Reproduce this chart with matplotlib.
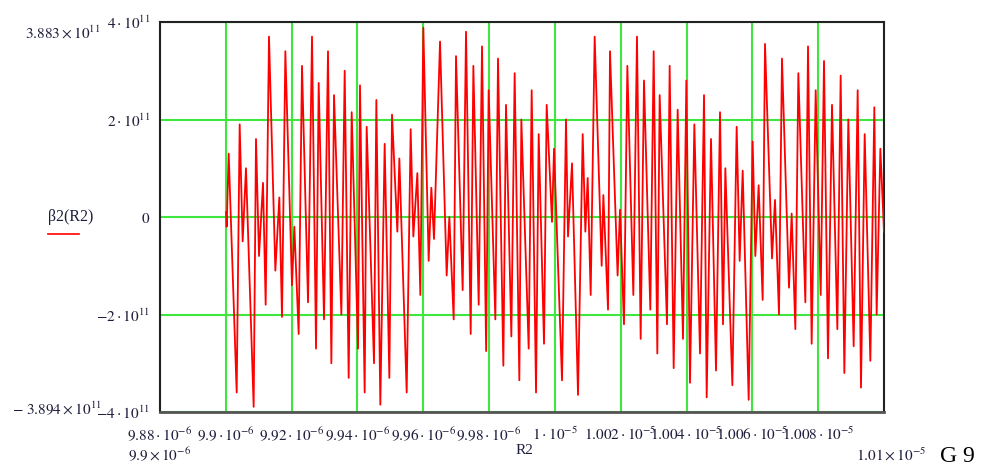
import matplotlib
matplotlib.use("Agg")
import matplotlib.pyplot as plt
from matplotlib.ticker import FixedLocator, FixedFormatter
from matplotlib.lines import Line2D
import numpy as np

plt.rcParams["font.family"] = ["Liberation Serif", "DejaVu Serif"]
plt.rcParams["mathtext.fontset"] = "stix"

# R2 sample positions (nanometres) and beta2(R2) values (units of 1e11)
r2_nm = [
    9900.06, 9900.26, 9900.87, 9903.30, 9904.21, 9905.12, 9906.13, 9908.46, 9909.17, 9910.08,
    9911.30, 9912.11, 9913.12, 9915.05, 9916.26, 9917.07, 9918.09, 9920.11, 9920.82, 9922.14,
    9923.15, 9924.98, 9926.19, 9927.41, 9928.22, 9929.84, 9931.05, 9932.07, 9932.88, 9935.11,
    9936.12, 9937.33, 9938.25,
    9940.17, 9940.77, 9942.19, 9942.80, 9945.03, 9945.74, 9946.95, 9948.27, 9949.69, 9950.50,
    9952.12, 9952.73, 9954.96, 9956.17, 9956.98, 9958.20, 9959.11, 9960.02, 9961.64, 9962.45,
    9963.26, 9965.09, 9967.11, 9967.92, 9969.24, 9969.95, 9971.97, 9972.99, 9974.41, 9975.22,
    9976.84, 9977.85, 9979.10,
    9979.87, 9981.90, 9982.71, 9984.33, 9985.14, 9986.76, 9987.77, 9989.19, 9989.80, 9992.03,
    9992.94, 9994.26, 9995.07, 9996.69, 9997.50, 9999.12, 9999.73, 10002.16, 10003.37, 10003.98,
    10005.20, 10007.02, 10008.44, 10009.25, 10009.96, 10010.87, 10012.08, 10014.21, 10014.72, 10016.14,
    10016.74, 10019.05,
    10019.78, 10020.99, 10022.01, 10023.83, 10024.94, 10026.06, 10027.07, 10028.99, 10030.01, 10031.12,
    10031.83, 10034.06, 10034.87, 10036.09, 10037.30, 10038.92, 10039.94, 10041.05, 10042.37, 10044.09,
    10045.31, 10046.12, 10047.43, 10048.95, 10050.17, 10051.08, 10051.79, 10053.92, 10055.23, 10056.14,
    10057.06, 10058.88,
    10060.09, 10060.90, 10061.91, 10063.13, 10063.84, 10065.97, 10066.88, 10068.09, 10069.00, 10071.13,
    10071.94, 10073.06, 10073.97, 10076.10, 10076.91, 10078.02, 10079.24, 10080.76, 10081.77, 10082.98,
    10084.20, 10085.82, 10086.83, 10087.95, 10089.16, 10090.78, 10092.00, 10093.01, 10094.13, 10095.85,
    10097.06, 10097.77, 10098.89, 10100.00,
]

beta2_e11 = [
    0.1, -0.2, 1.3, -3.6, 1.9, -0.5, 1.0, -3.894, 1.6, -0.8,
    0.7, -1.8, 3.7, -1.1, 0.4, -2.05, 3.4, -1.4, -0.2, -2.4,
    3.1, -1.75, 3.7, -2.7, 2.75, -2.1, 3.4, -3.0, 2.5, -2.0,
    3.0, -3.3, 2.15,
    -2.7, 2.7, -3.6, 1.85, -3.0, 2.4, -3.85, 1.5, -3.3, 2.1,
    -0.3, 1.2, -3.6, 1.8, -0.4, 0.9, -1.6, 3.883, -0.9, 0.6,
    -0.45, 3.6, -1.2, 0.0, -2.1, 3.3, -1.5, 3.8, -2.4, 3.1,
    -1.8, 3.5, -2.75,
    2.6, -2.1, 3.25, -3.05, 2.3, -2.45, 2.95, -3.35, 2.0, -2.7,
    2.6, -3.6, 1.7, -2.6, 2.3, -0.1, 1.4, -3.35, 2.0, -0.4,
    1.1, -3.65, 1.7, -0.3, 0.8, -1.6, 3.7, -1.0, 0.45, -1.9,
    3.4, -1.2,
    0.15, -2.2, 3.1, -1.6, 3.7, -2.5, 2.8, -1.9, 3.4, -2.8,
    2.5, -2.2, 3.1, -3.1, 2.2, -2.5, 2.8, -3.4, 1.9, -2.8,
    2.5, -3.7, 1.6, -3.15, 2.15, -2.2, 1.0, -3.45, 1.85, -0.9,
    0.95, -3.75,
    1.55, -0.8, 0.65, -1.7, 3.55, -0.85, 0.35, -2.0, 3.25, -1.45,
    0.07, -2.3, 2.95, -1.75, 3.5, -2.6, 2.6, -1.6, 3.2, -2.9,
    2.3, -2.3, 2.9, -3.2, 2.0, -2.65, 2.6, -3.5, 1.7, -2.95,
    2.25, -2.0, 1.4, -0.3,
]

x_tick_values = [9.88e-6, 9.90e-6, 9.92e-6, 9.94e-6, 9.96e-6, 9.98e-6,
                 1.000e-5, 1.002e-5, 1.004e-5, 1.006e-5, 1.008e-5]
x_tick_labels = [r"$9.88\cdot10^{-6}$", r"$9.9\cdot10^{-6}$", r"$9.92\cdot10^{-6}$",
                 r"$9.94\cdot10^{-6}$", r"$9.96\cdot10^{-6}$", r"$9.98\cdot10^{-6}$",
                 r"$1\cdot10^{-5}$", r"$1.002\cdot10^{-5}$", r"$1.004\cdot10^{-5}$",
                 r"$1.006\cdot10^{-5}$", r"$1.008\cdot10^{-5}$"]
y_tick_values = [-4e11, -2e11, 0.0, 2e11, 4e11]
y_tick_labels = [r"$-4\cdot10^{11}$", r"$-2\cdot10^{11}$", r"$0$",
                 r"$2\cdot10^{11}$", r"$4\cdot10^{11}$"]

x_limits = (9.88e-6, 1.01e-5)
y_limits = (-4e11, 4e11)

W, H = 986, 466
fig = plt.figure(figsize=(W / 100, H / 100), dpi=100)
ax = fig.add_axes([160 / W, 54 / H, 724 / W, 390 / H])

x = np.array(r2_nm) * 1e-9
y = np.array(beta2_e11) * 1e11
ax.plot(x, y, color="#ff0000", lw=1.3, zorder=3)

ax.set_xlim(*x_limits)
ax.set_ylim(*y_limits)
ax.xaxis.set_major_locator(FixedLocator(x_tick_values))
ax.xaxis.set_major_formatter(FixedFormatter(x_tick_labels))
ax.yaxis.set_major_locator(FixedLocator(y_tick_values))
ax.yaxis.set_major_formatter(FixedFormatter(y_tick_labels))

ax.set_axisbelow(True)
ax.grid(True, color="#3ee63e", lw=1.5)
text_color = "#1e1e3c"
ax.tick_params(axis="both", length=0, labelsize=11, labelcolor=text_color)
ax.tick_params(axis="x", pad=10)
ax.tick_params(axis="y", pad=7)

for side in ("top", "left", "right"):
    ax.spines[side].set_color("#222222")
    ax.spines[side].set_linewidth(1.5)
ax.spines["bottom"].set_color("#555555")
ax.spines["bottom"].set_linewidth(2)

def fx(px):
    return px / W

def fy(py):
    return 1 - py / H

# axis range annotations
fig.text(fx(25), fy(33), r"$3.883\times10^{11}$", fontsize=11, color=text_color,
         ha="left", va="center")
fig.text(fx(12), fy(408), r"$-\ 3.894\times10^{11}$", fontsize=11, color=text_color,
         ha="left", va="center")
fig.text(fx(128), fy(455), r"$9.9\times10^{-6}$", fontsize=11, color=text_color,
         ha="left", va="center")
fig.text(fx(856), fy(455), r"$1.01\times10^{-5}$", fontsize=11, color=text_color,
         ha="left", va="center")

# axis title and caption
fig.text(fx(524), fy(451), "R2", fontsize=11, color=text_color, ha="center", va="center")
fig.text(fx(940), fy(456), "G 9", fontsize=17, color="black", ha="left", va="center")

# legend entry
fig.text(fx(48), fy(217), "β2(R2)", fontsize=11.5, color=text_color, ha="left", va="center")
fig.add_artist(Line2D([fx(48), fx(79)], [fy(234), fy(234)], color="#ff0000", lw=1.2,
                      transform=fig.transFigure))

fig.savefig("out.png", dpi=100)
